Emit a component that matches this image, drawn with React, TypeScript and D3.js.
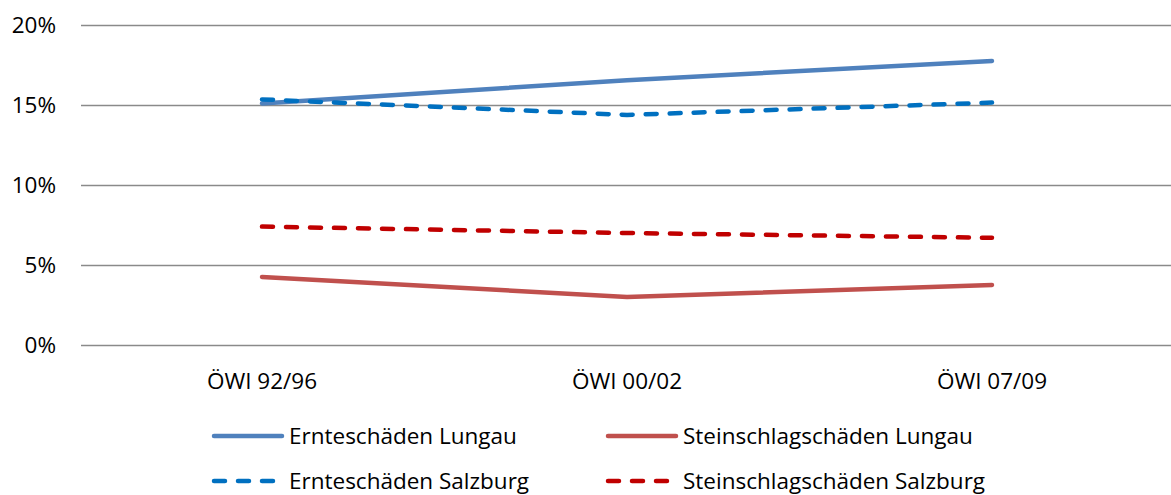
import React from "react";
import * as d3 from "d3";

const categories = ["ÖWI 92/96", "ÖWI 00/02", "ÖWI 07/09"];
const yTicks = [0, 0.05, 0.1, 0.15, 0.2];
const ernteLungau = [0.151, 0.1655, 0.1775];
const steinLungau = [0.0425, 0.030, 0.0375];
const ernteSalzburg = [0.1535, 0.1438, 0.1515];
const steinSalzburg = [0.074, 0.0700, 0.0670];

const seriesNames = [
  "Ernteschäden Lungau",
  "Steinschlagschäden Lungau",
  "Ernteschäden Salzburg",
  "Steinschlagschäden Salzburg",
];

const W = 1171;
const H = 495;
const FONT = "'Open Sans', sans-serif";
const FS = 22.5;

export default function App() {
  const x = d3.scalePoint<string>().domain(categories).range([262, 992]);
  const y = d3.scaleLinear().domain([0, 0.2]).range([345, 25]);
  const line = d3
    .line<number>()
    .x((_, i) => x(categories[i]) as number)
    .y((d) => y(d));

  const series = [
    { name: seriesNames[0], values: ernteLungau, color: "#4F81BD", dash: undefined },
    { name: seriesNames[1], values: steinLungau, color: "#C0504D", dash: undefined },
    { name: seriesNames[2], values: ernteSalzburg, color: "#0070C0", dash: "11,13" },
    { name: seriesNames[3], values: steinSalzburg, color: "#C00000", dash: "11,13" },
  ];
  const drawOrder = [0, 1, 3, 2];

  const legendPos = [
    { lx: 214, ly: 436 },
    { lx: 608, ly: 436 },
    { lx: 214, ly: 481 },
    { lx: 608, ly: 481 },
  ];

  const fmt = d3.format(".0%");

  return (
    <svg
      width={W}
      height={H}
      style={{ position: "absolute", left: 0, top: 0, background: "#fff" }}
    >
      {yTicks.map((t) => (
        <g key={t}>
          <line
            x1={81}
            x2={W}
            y1={Math.round(y(t)) + 0.5}
            y2={Math.round(y(t)) + 0.5}
            stroke="#8a8a8a"
            strokeWidth={1.5}
          />
          <text
            x={56}
            y={y(t)}
            dy="0.35em"
            textAnchor="end"
            fontFamily={FONT}
            fontSize={FS}
            fill="#000"
          >
            {fmt(t)}
          </text>
        </g>
      ))}
      {categories.map((c) => (
        <text
          key={c}
          x={x(c)}
          y={389}
          textAnchor="middle"
          fontFamily={FONT}
          fontSize={FS}
          fill="#000"
        >
          {c}
        </text>
      ))}
      {drawOrder.map((i) => {
        const s = series[i];
        return (
          <path
            key={s.name}
            d={line(s.values) || ""}
            fill="none"
            stroke={s.color}
            strokeWidth={4.5}
            strokeLinecap="round"
            strokeLinejoin="round"
            strokeDasharray={s.dash}
          />
        );
      })}
      {series.map((s, i) => {
        const p = legendPos[i];
        return (
          <g key={"lg" + i}>
            <line
              x1={p.lx}
              x2={p.lx + (s.dash ? 63 : 68)}
              y1={p.ly}
              y2={p.ly}
              stroke={s.color}
              strokeWidth={4.5}
              strokeLinecap="round"
              strokeDasharray={s.dash ? "11,13" : undefined}
            />
            <text
              x={p.lx + 75}
              y={p.ly}
              dy="0.35em"
              fontFamily={FONT}
              fontSize={FS}
              fill="#000"
            >
              {s.name}
            </text>
          </g>
        );
      })}
    </svg>
  );
}
